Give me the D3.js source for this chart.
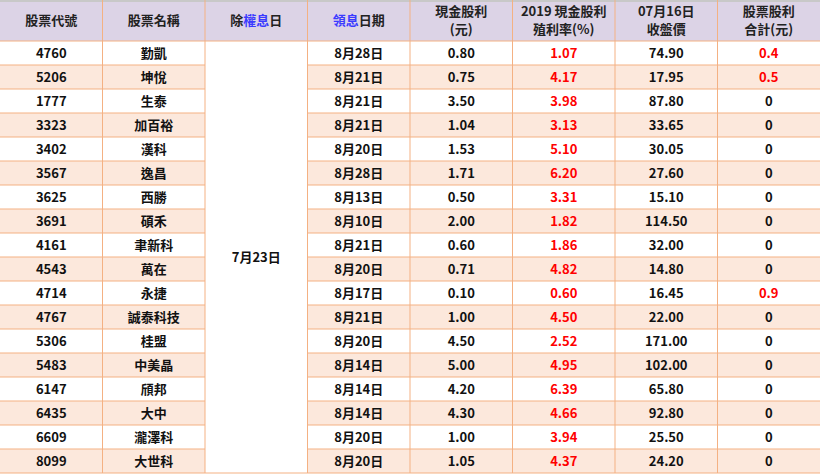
<!DOCTYPE html>
<html><head><meta charset="utf-8">
<script src="https://cdn.jsdelivr.net/npm/d3@7"></script>
<style>body{margin:0;background:#fff}</style>
</head><body><div id="chart"></div>
<script>
const codes = ["4760","5206","1777","3323","3402","3567","3625","3691","4161","4543","4714","4767","5306","5483","6147","6435","6609","8099"];
const names = ["勤凱","坤悅","生泰","加百裕","漢科","逸昌","西勝","碩禾","聿新科","萬在","永捷","誠泰科技","桂盟","中美晶","頎邦","大中","瀧澤科","大世科"];
const payDates = ["8月28日","8月21日","8月21日","8月21日","8月20日","8月28日","8月13日","8月10日","8月21日","8月20日","8月17日","8月21日","8月20日","8月14日","8月14日","8月14日","8月20日","8月20日"];
const cashDiv = ["0.80","0.75","3.50","1.04","1.53","1.71","0.50","2.00","0.60","0.71","0.10","1.00","4.50","5.00","4.20","4.30","1.00","1.05"];
const yieldPct = ["1.07","4.17","3.98","3.13","5.10","6.20","3.31","1.82","1.86","4.82","0.60","4.50","2.52","4.95","6.39","4.66","3.94","4.37"];
const closePrice = ["74.90","17.95","87.80","33.65","30.05","27.60","15.10","114.50","32.00","14.80","16.45","22.00","171.00","102.00","65.80","92.80","25.50","24.20"];
const stockDiv = ["0.4","0.5","0","0","0","0","0","0","0","0","0.9","0","0","0","0","0","0","0"];
const exDate = "7月23日";
const headers = [["股票代號"],["股票名稱"],["除|權息|日"],["|領息|日期"],["現金股利","(元)"],["2019 現金股利","殖利率(%)"],["07月16日","收盤價"],["股票股利","合計(元)"]];

const W = 820, H = 476, headH = 41, rowH = 24;
const font = "'Noto Sans CJK TC', sans-serif";
const svg = d3.select("#chart").append("svg").attr("width", W).attr("height", H);
const x = d3.scaleBand().domain(d3.range(8)).range([0, W]);
const y = d3.scaleBand().domain(d3.range(codes.length)).range([headH, headH + rowH * codes.length]);

svg.append("rect").attr("width", W).attr("height", headH).attr("fill", "#dcd3e6");
svg.append("line").attr("x1", 0).attr("x2", W).attr("y1", 1).attr("y2", 1).attr("stroke", "#c8c8c8").attr("stroke-width", 2);

const rows = codes.map((c, i) => [c, names[i], null, payDates[i], cashDiv[i], yieldPct[i], closePrice[i], stockDiv[i]]);
svg.selectAll("rect.row").data(rows).enter().append("rect")
  .attr("x", 0).attr("y", (d, i) => y(i)).attr("width", W).attr("height", rowH)
  .attr("fill", (d, i) => i % 2 ? "#fce8dc" : "#fff");
// merged ex-date cell
svg.append("rect").attr("x", x(2)).attr("y", headH).attr("width", x.bandwidth())
  .attr("height", rowH * codes.length).attr("fill", "#fff");

const line = (x1, y1, x2, y2) => svg.append("line").attr("x1", x1).attr("y1", y1).attr("x2", x2).attr("y2", y2)
  .attr("stroke", "#f4b183").attr("stroke-width", 1);
d3.range(1, 8).forEach(c => line(x(c), 0, x(c), headH + rowH * codes.length));
d3.range(codes.length + 1).forEach(r => {
  const yy = headH + r * rowH;
  if (r === 0 || r === codes.length) line(0, yy, W, yy);
  else { line(0, yy, x(2), yy); line(x(3), yy, W, yy); }
});

headers.forEach((h, c) => {
  const t = svg.append("text").attr("x", x(c) + x.bandwidth() / 2).attr("text-anchor", "middle")
    .attr("font-family", font).attr("font-size", 13).attr("font-weight", "bold").attr("fill", "#222");
  if (h.length === 1) {
    const parts = h[0].split("|");
    t.attr("y", 25);
    parts.forEach((p, k) => t.append("tspan").text(p).attr("fill", k === 1 ? "#3b3bff" : "#222"));
  } else {
    h.forEach((s, k) => t.append("tspan").attr("x", x(c) + x.bandwidth() / 2).attr("y", 16 + k * 18).text(s));
  }
});

rows.forEach((r, i) => r.forEach((v, c) => {
  if (v === null) return;
  const red = c === 5 || (c === 7 && v !== "0");
  svg.append("text").attr("x", x(c) + x.bandwidth() / 2).attr("y", y(i) + rowH / 2 + 5)
    .attr("text-anchor", "middle").attr("font-family", font).attr("font-size", 13).attr("font-weight", "bold")
    .attr("fill", red ? "#ff0000" : "#111").text(v);
}));
svg.append("text").attr("x", x(2) + x.bandwidth() / 2).attr("y", headH + rowH * codes.length / 2 + 5)
  .attr("text-anchor", "middle").attr("font-family", font).attr("font-size", 13).attr("font-weight", "bold")
  .attr("fill", "#111").text(exDate);
</script></body></html>
